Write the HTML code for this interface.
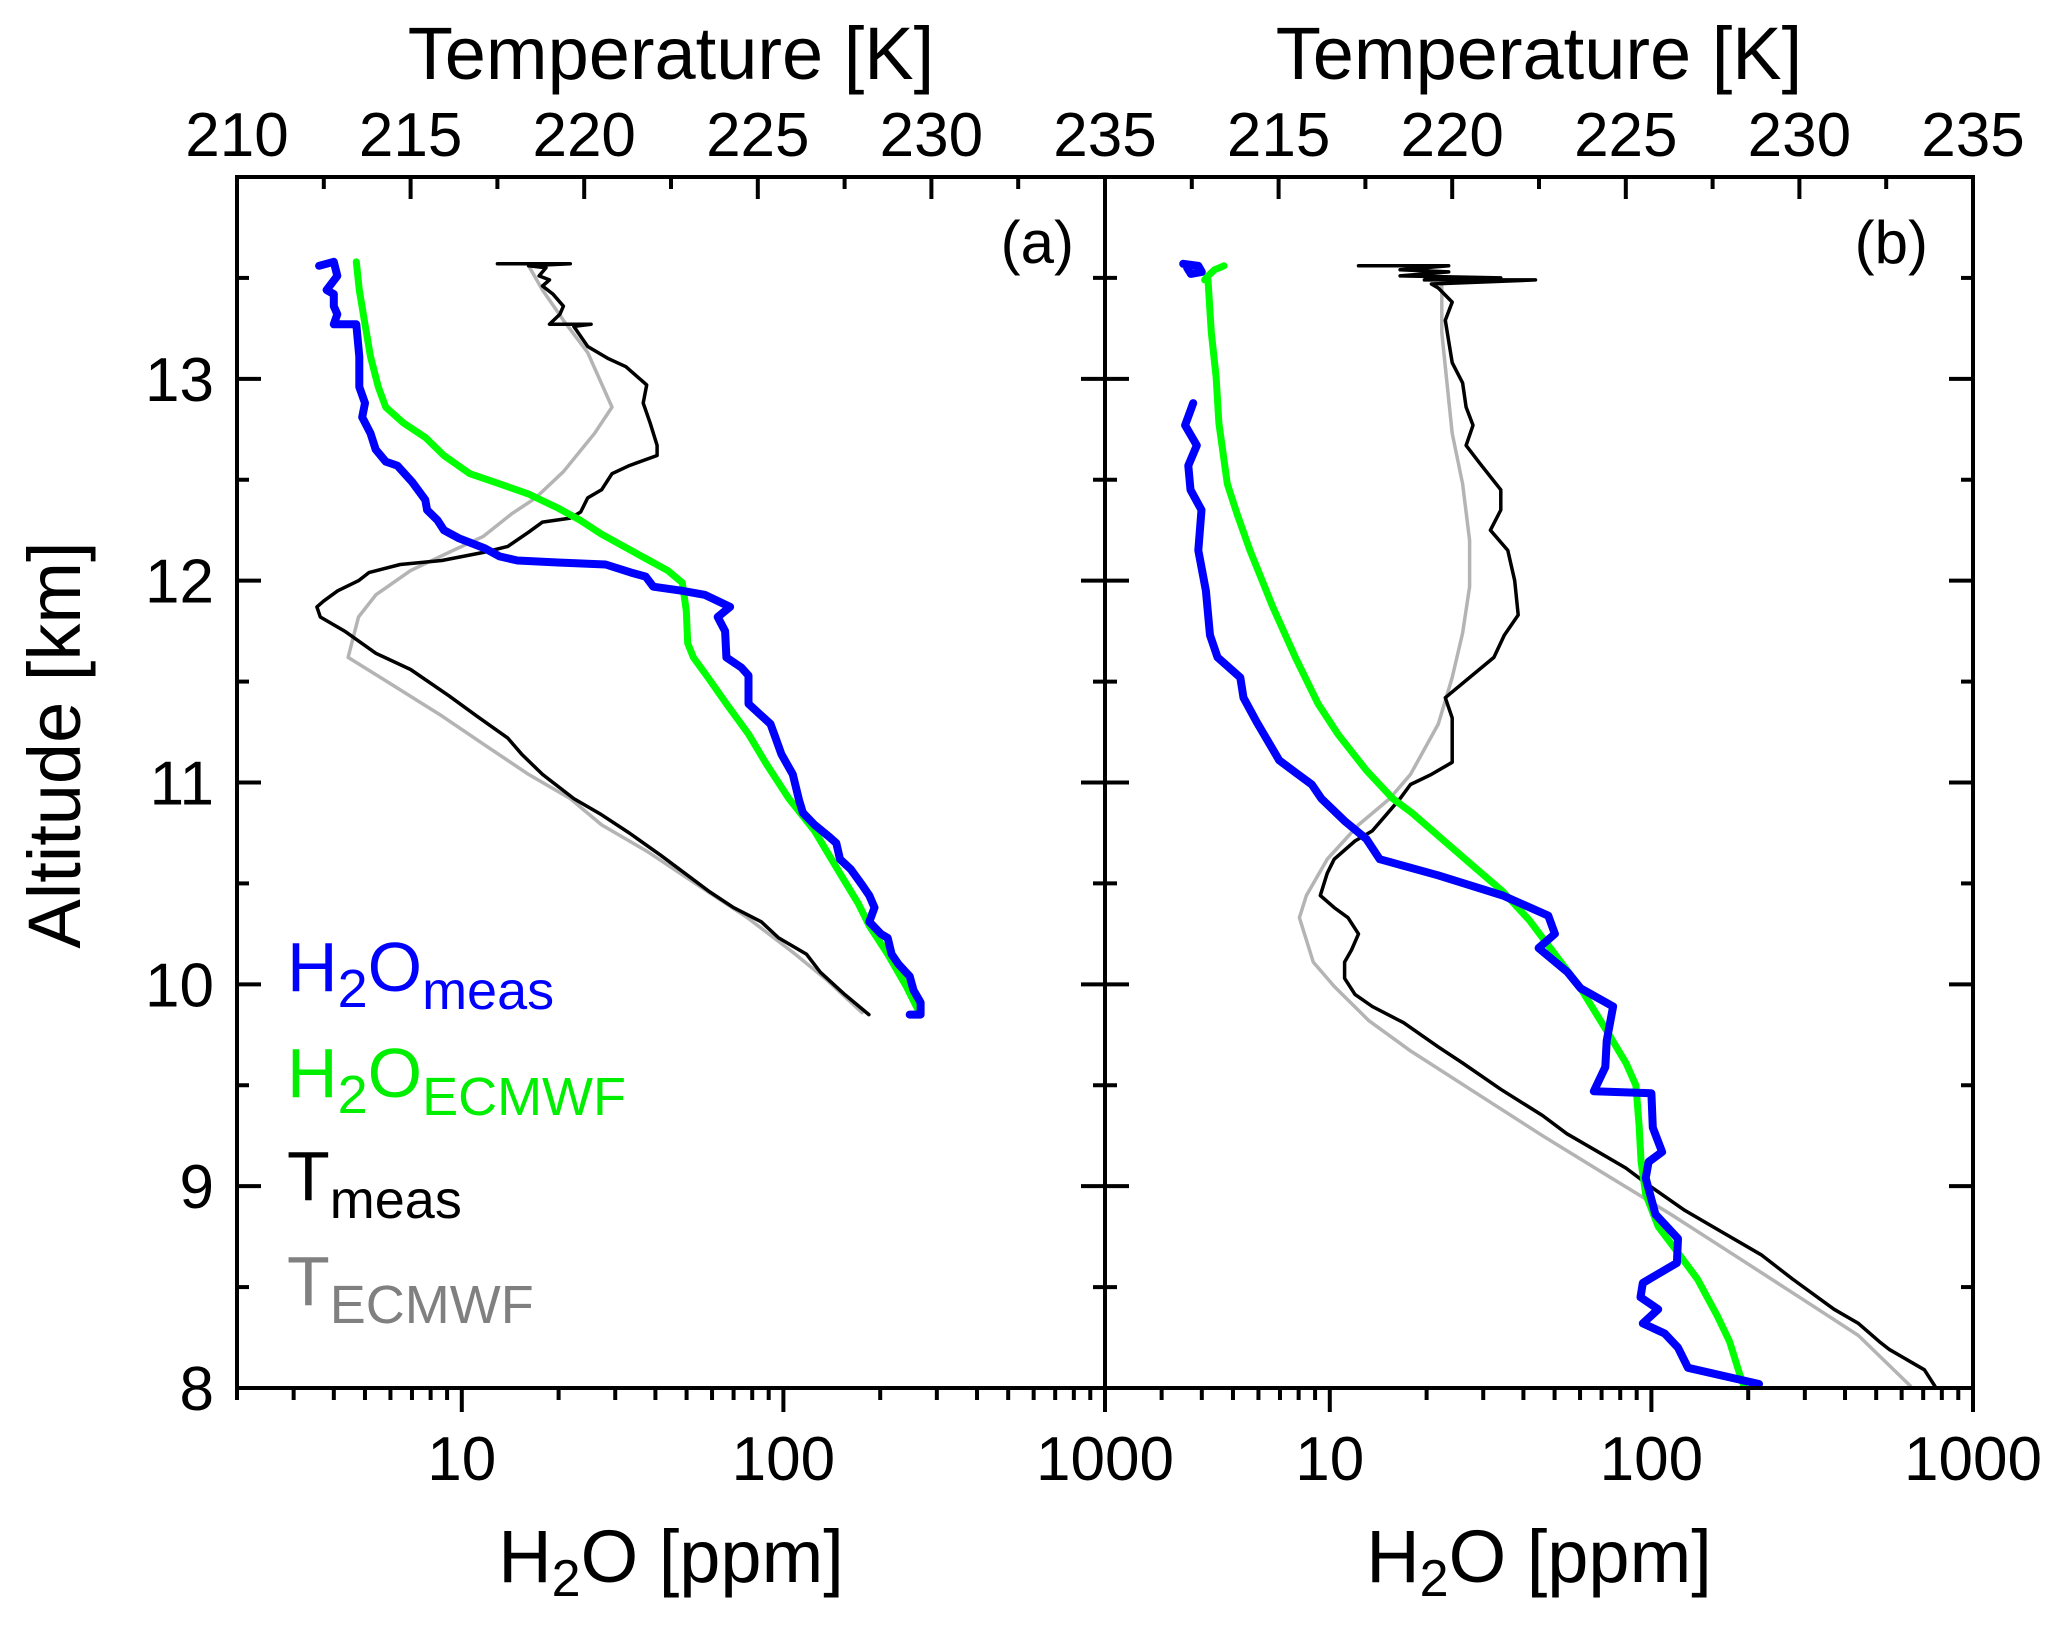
<!DOCTYPE html>
<html><head><meta charset="utf-8">
<style>
html,body{margin:0;padding:0;background:#fff;}
svg{display:block;font-family:"Liberation Sans",Arial,sans-serif;}
</style></head>
<body>
<svg id="chart" width="2067" height="1627" viewBox="0 0 2067 1627" xmlns="http://www.w3.org/2000/svg">
<rect x="0" y="0" width="2067" height="1627" fill="#fff"/>
<g id="marks"></g>
<g id="axes"></g>
<g id="labels"></g>
<text x="1074" y="263" font-size="60" text-anchor="end">(a)</text>
<text x="1928" y="263" font-size="60" text-anchor="end">(b)</text>
<text x="671" y="79" font-size="74" text-anchor="middle">Temperature [K]</text>
<text x="1539" y="79" font-size="74" text-anchor="middle">Temperature [K]</text>
<text x="671" y="1582" font-size="74" text-anchor="middle">H<tspan font-size="52" dy="14">2</tspan><tspan dy="-14">O [ppm]</tspan></text>
<text x="1539" y="1582" font-size="74" text-anchor="middle">H<tspan font-size="52" dy="14">2</tspan><tspan dy="-14">O [ppm]</tspan></text>
<text transform="translate(80,745) rotate(-90)" font-size="74" text-anchor="middle">Altitude [km]</text>
<g>
<text x="287" y="991" font-size="70" fill="#0000ff">H<tspan font-size="54" dy="16">2</tspan><tspan dy="-16">O</tspan><tspan font-size="54" dy="18">meas</tspan></text>
<text x="287" y="1097" font-size="70" fill="#00ee00">H<tspan font-size="54" dy="16">2</tspan><tspan dy="-16">O</tspan><tspan font-size="54" dy="18">ECMWF</tspan></text>
<text x="287" y="1200" font-size="70" fill="#000">T<tspan font-size="54" dy="18">meas</tspan></text>
<text x="287" y="1305" font-size="70" fill="#808080">T<tspan font-size="54" dy="18">ECMWF</tspan></text>
</g>
</svg>
<script>
// ---- data (altitude km, value) ----
const altTicks = [8, 9, 10, 11, 12, 13];
const tempTicks = [210, 215, 220, 225, 230, 235];
const h2oTicks = [10, 100, 1000];

const aH2OMeas = [[13.56,3.6],[13.58,4.0],[13.51,4.1],[13.44,3.8],[13.42,4.0],[13.36,4.0],[13.32,4.1],[13.27,4.0],[13.27,4.7],[13.11,4.8],[12.96,4.8],[12.88,5.0],[12.81,4.9],[12.73,5.2],[12.65,5.4],[12.59,5.8],[12.57,6.3],[12.49,7.0],[12.40,7.7],[12.35,7.8],[12.30,8.4],[12.25,8.8],[12.21,9.8],[12.16,11.8],[12.12,13.1],[12.10,14.9],[12.09,19.9],[12.08,28],[12.04,33.6],[12.02,37.3],[11.97,39.4],[11.95,48.5],[11.93,56.9],[11.87,68.3],[11.82,62.5],[11.75,65.9],[11.62,66.5],[11.57,74],[11.53,77.9],[11.39,77.9],[11.34,84.3],[11.29,91.2],[11.24,93.6],[11.14,98.6],[11.04,107],[10.91,112],[10.85,115],[10.79,125],[10.73,139],[10.70,146],[10.62,150],[10.57,162],[10.49,176],[10.44,185],[10.38,192],[10.31,185],[10.25,201],[10.23,211],[10.15,217],[10.10,228],[10.04,247],[9.97,254],[9.91,267],[9.85,267],[9.85,247]];
const aH2OEcmwf = [[13.58,4.7],[13.44,4.8],[13.27,5.0],[13.11,5.2],[12.96,5.5],[12.86,5.8],[12.78,6.6],[12.71,7.7],[12.62,8.8],[12.53,10.6],[12.48,13.1],[12.43,16.1],[12.36,19.9],[12.30,23.3],[12.23,27.2],[12.17,31.9],[12.11,37.3],[12.05,43.7],[11.99,48.5],[11.85,49.9],[11.69,50.4],[11.62,52.5],[11.52,58.3],[11.39,66.5],[11.24,77.9],[11.09,88.7],[10.92,104],[10.76,125],[10.58,146],[10.40,171],[10.29,185],[10.15,211],[9.99,241],[9.88,261]];
const aTMeas = [[13.57,217.5],[13.57,219.6],[13.56,218.4],[13.55,218.9],[13.51,218.7],[13.49,219.0],[13.46,218.8],[13.42,219.1],[13.36,219.4],[13.32,219.3],[13.27,219.0],[13.27,220.2],[13.26,219.7],[13.16,220.1],[13.10,220.7],[13.06,221.2],[12.97,221.8],[12.88,221.7],[12.78,221.9],[12.67,222.1],[12.62,222.1],[12.57,221.3],[12.53,220.8],[12.45,220.5],[12.41,220.1],[12.34,219.9],[12.31,219.6],[12.29,218.8],[12.24,218.4],[12.17,217.8],[12.14,217.1],[12.10,215.9],[12.08,214.7],[12.04,213.8],[12.00,213.5],[11.95,212.9],[11.90,212.5],[11.87,212.3],[11.82,212.4],[11.75,213.1],[11.64,214.0],[11.56,215.0],[11.43,216.1],[11.33,216.9],[11.22,217.8],[11.14,218.2],[11.04,218.8],[10.92,219.7],[10.84,220.5],[10.75,221.3],[10.64,222.2],[10.55,222.9],[10.46,223.6],[10.38,224.3],[10.31,225.1],[10.23,225.6],[10.15,226.4],[10.06,226.8],[9.95,227.5],[9.85,228.2]];
const aTEcmwf = [[13.56,218.4],[13.44,218.8],[13.29,219.4],[13.13,220.1],[12.86,220.8],[12.73,220.3],[12.54,219.4],[12.41,218.6],[12.33,217.9],[12.22,217.1],[12.14,216.1],[12.05,215.0],[11.93,214.0],[11.82,213.5],[11.62,213.2],[11.47,214.6],[11.33,215.9],[11.19,217.1],[11.04,218.4],[10.92,219.6],[10.79,220.5],[10.66,221.8],[10.50,223.2],[10.33,224.7],[10.16,226.0],[10.02,227.0],[9.86,228.0]];

const bH2OMeasTop = [[13.57,3.5],[13.56,3.9],[13.53,4.0],[13.52,3.7],[13.55,3.6]];
const bH2OMeas = [[12.88,3.76],[12.77,3.55],[12.67,3.86],[12.57,3.63],[12.45,3.69],[12.35,3.99],[12.15,3.90],[11.95,4.12],[11.73,4.24],[11.62,4.48],[11.52,5.27],[11.42,5.39],[11.30,5.92],[11.11,6.96],[11.05,7.82],[10.99,8.79],[10.92,9.42],[10.81,11.1],[10.72,13.0],[10.62,14.3],[10.54,21.7],[10.44,34.5],[10.34,47.8],[10.25,50.1],[10.18,44.6],[10.06,54.9],[9.98,60.3],[9.89,76.0],[9.72,72.6],[9.59,71.9],[9.47,66.2],[9.46,100],[9.29,101],[9.17,108],[9.12,98],[9.04,96],[8.86,103],[8.74,121],[8.62,120],[8.52,94],[8.45,92.5],[8.39,105],[8.32,94],[8.27,110],[8.20,121],[8.10,130],[8.02,216]];
const bH2OEcmwf = [[13.56,4.69],[13.54,4.38],[13.51,4.18],[13.49,4.08],[13.49,4.18],[13.23,4.28],[13.01,4.43],[12.78,4.52],[12.48,4.80],[12.33,5.15],[12.15,5.65],[11.87,6.65],[11.62,7.82],[11.39,9.2],[11.24,10.6],[11.06,13.0],[10.92,15.7],[10.85,18.0],[10.71,22.7],[10.57,28.7],[10.46,34.5],[10.32,41.6],[10.15,50.1],[9.98,60.3],[9.77,72.6],[9.61,83.4],[9.50,89.5],[9.30,91.6],[9.12,92.9],[8.96,96],[8.80,105],[8.67,121],[8.54,139],[8.36,160],[8.23,175],[8.07,188],[8.01,194]];
const bTMeas = [[13.56,217.3],[13.56,219.9],[13.54,218.5],[13.53,219.9],[13.51,218.5],[13.50,221.4],[13.49,219.2],[13.49,222.4],[13.47,219.4],[13.45,219.6],[13.38,220.0],[13.29,219.8],[13.08,220.0],[12.98,220.3],[12.86,220.4],[12.77,220.6],[12.67,220.4],[12.58,220.8],[12.45,221.4],[12.35,221.4],[12.25,221.1],[12.15,221.6],[12.00,221.8],[11.83,221.9],[11.73,221.5],[11.62,221.2],[11.52,220.5],[11.42,219.8],[11.32,220.0],[11.10,220.0],[11.04,219.4],[10.99,218.8],[10.92,218.5],[10.84,218.1],[10.76,217.7],[10.71,217.2],[10.62,216.6],[10.55,216.4],[10.44,216.2],[10.38,216.6],[10.33,217.0],[10.25,217.3],[10.17,217.1],[10.11,216.9],[10.03,216.9],[9.95,217.2],[9.89,217.7],[9.81,218.6],[9.69,219.6],[9.61,220.3],[9.48,221.4],[9.35,222.6],[9.26,223.3],[9.18,224.1],[9.09,225.0],[9.00,225.7],[8.88,226.7],[8.77,227.8],[8.66,228.9],[8.54,229.8],[8.39,231.0],[8.32,231.7],[8.23,232.3],[8.19,232.6],[8.09,233.6],[8.01,233.9]];
const bTEcmwf = [[13.46,219.7],[13.23,219.7],[13.06,219.8],[12.73,220.0],[12.48,220.3],[12.20,220.5],[11.97,220.5],[11.74,220.3],[11.52,220.0],[11.29,219.6],[11.04,218.8],[10.92,218.2],[10.79,217.3],[10.62,216.4],[10.44,215.8],[10.33,215.6],[10.11,216.0],[9.99,216.6],[9.82,217.6],[9.67,218.8],[9.46,220.7],[9.25,222.6],[9.06,224.4],[8.86,226.3],[8.65,228.2],[8.45,230.0],[8.26,231.7],[8.01,233.2]];

// ---- geometry ----
const NS = "http://www.w3.org/2000/svg";
const X0 = [237, 1105], W = 868, TOP = 177, BOT = 1388;
const LMIN = Math.log10(2), LMAX = 3;
function yAlt(a){ return BOT - (a - 8) / 6 * (BOT - TOP); }
function xTemp(p, t){ return X0[p] + (t - 210) / 25 * W; }
function xH2O(p, v){ return X0[p] + (Math.log10(v) - LMIN) / (LMAX - LMIN) * W; }
function mk(tag, attrs, parent){ const e = document.createElementNS(NS, tag); for (const k in attrs) e.setAttribute(k, attrs[k]); parent.appendChild(e); return e; }

const marks = document.getElementById("marks");
const axes = document.getElementById("axes");
const labels = document.getElementById("labels");

function series(data, p, kind, color, width, name){
  const pts = data.map(d => (kind === "T" ? xTemp(p, d[1]) : xH2O(p, d[1])).toFixed(1) + "," + yAlt(d[0]).toFixed(1)).join(" ");
  const el = mk("polyline", {points: pts, fill: "none", stroke: color, "stroke-width": width, "stroke-linejoin": "round", "stroke-linecap": "round"}, marks);
  
  
}
series(aTEcmwf, 0, "T", "#b4b4b4", 3.5, "t-ecmwf-line-a");
series(aTMeas, 0, "T", "#000", 3.5, "t-meas-line-a");
series(aH2OEcmwf, 0, "H", "#00ff00", 7, "h2o-ecmwf-line-a");
series(aH2OMeas, 0, "H", "#0000ff", 8, "h2o-meas-line-a");
series(bTEcmwf, 1, "T", "#b4b4b4", 3.5, "t-ecmwf-line-b");
series(bTMeas, 1, "T", "#000", 3.5, "t-meas-line-b");
series(bH2OEcmwf, 1, "H", "#00ff00", 7, "h2o-ecmwf-line-b");
series(bH2OMeas, 1, "H", "#0000ff", 8, "h2o-meas-line-b");
series(bH2OMeasTop, 1, "H", "#0000ff", 8, "h2o-meas-top-b");

// frames
for (let p = 0; p < 2; p++){
  const r = mk("rect", {x: X0[p], y: TOP, width: W, height: BOT - TOP, fill: "none", stroke: "#000", "stroke-width": 4}, axes);
  
  
}
function line(x1, y1, x2, y2){ mk("line", {x1: x1, y1: y1, x2: x2, y2: y2, stroke: "#000", "stroke-width": 4}, axes); }
function label(txt, x, y, anchor, name){
  const t = mk("text", {x: x, y: y, "font-size": 62, "text-anchor": anchor}, labels);
  t.textContent = txt;
  
  
}
// altitude ticks
for (let a = 8; a <= 14.001; a += 0.5){
  const y = yAlt(a), major = Math.abs(a - Math.round(a)) < 1e-6, L = major ? 24 : 12;
  line(X0[0], y, X0[0] + L, y);
  line(X0[1] - L, y, X0[1] + L, y);
  line(X0[1] + W - L, y, X0[1] + W, y);
}
altTicks.forEach(a => label(String(a), 214, yAlt(a) + 22, "end", "y-tick-" + a));
// temperature ticks (top, inward)
for (let p = 0; p < 2; p++){
  for (let t = 210; t <= 235.001; t += 2.5){
    const x = xTemp(p, t), major = Math.abs(t / 5 - Math.round(t / 5)) < 1e-6;
    line(x, TOP, x, TOP + (major ? 22 : 12));
  }
  tempTicks.forEach(t => { if (p === 1 && t === 210) return; label(String(t), xTemp(p, t), 156, "middle", "top-tick-" + (p ? "b-" : "a-") + t); });
  // log ticks (bottom, outward)
  for (let d = 1; d <= 1000; d *= 10){
    for (let m = 1; m <= 9; m++){
      const v = d * m; if (v < 2 || v > 1000) continue;
      line(xH2O(p, v), BOT, xH2O(p, v), BOT + (m === 1 ? 24 : 12));
    }
  }
  h2oTicks.forEach(v => label(String(v), xH2O(p, v), 1480, "middle", "bottom-tick-" + (p ? "b-" : "a-") + v));
}
</script>
</body></html>
